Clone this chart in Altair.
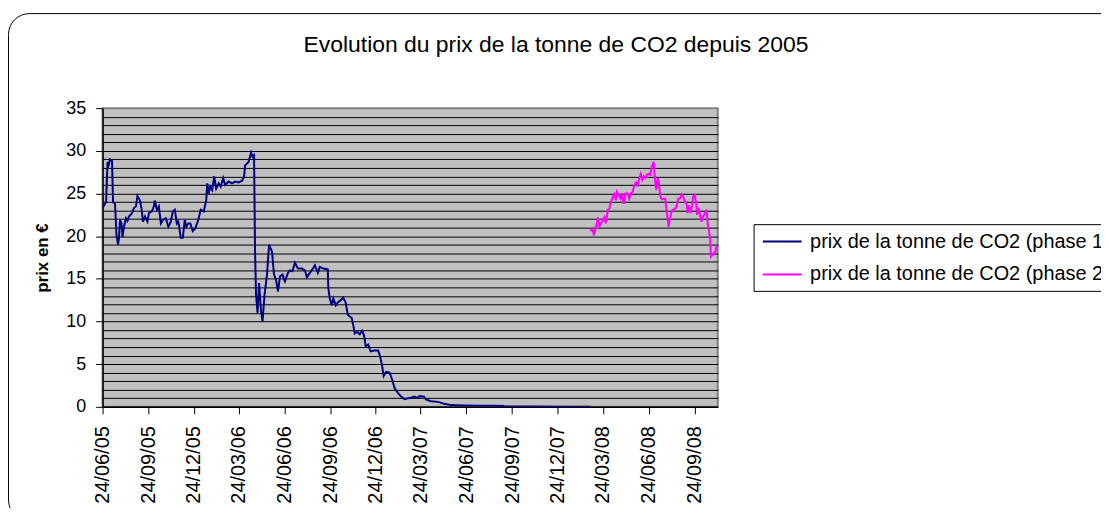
import altair as alt
import pandas as pd
from datetime import datetime, timedelta

titre = "Evolution du prix de la tonne de CO2 depuis 2005"
titre_y = "prix en €"
series = ["prix de la tonne de CO2 (phase 1)", "prix de la tonne de CO2 (phase 2)"]
couleurs = ["#000080", "#FF00FF"]

# day offsets from 24/06/2005 and prices (EUR)
debut = datetime(2005, 6, 24)
jours_phase1 = [
    0, 7, 10, 12, 15, 19, 21, 25, 28, 31,
    33, 35, 38, 40, 43, 47, 50, 53, 59, 63,
    67, 70, 75, 78, 81, 85, 90, 93, 99, 103,
    105, 109, 113, 117, 121, 127, 132, 137, 141, 145,
    149, 152, 157, 161, 165, 168, 172, 176, 181, 186,
    192, 197, 203, 208, 210, 213, 216, 220, 224, 228,
    233, 237, 242, 246, 253, 260, 266, 273, 280, 284,
    286, 293, 298, 301, 304, 306, 308, 311, 314, 318,
    321, 325, 330, 334, 340, 344, 348, 352, 356, 361,
    366, 372, 376, 381, 386, 392, 400, 406, 410, 416,
    423, 426, 432, 436, 443, 452, 453, 456, 460, 463,
    468, 473, 478, 483, 488, 492, 500, 503, 506, 511,
    516, 521, 525, 528, 533, 538, 545, 553, 557, 561,
    564, 569, 576, 581, 586, 593, 599, 606, 613, 619,
    625, 633, 636, 645, 649, 659, 673, 686, 699, 726,
    759, 786, 805, 806, 859, 926, 979,
]
prix_phase1 = [
    23.3, 24.0, 28.7, 28.3, 29.0, 28.8, 24.0, 23.8, 20.1, 19.0,
    19.8, 21.9, 21.5, 19.9, 21.1, 22.1, 21.8, 22.3, 22.7, 23.3,
    23.5, 24.7, 24.2, 23.3, 21.7, 22.3, 21.7, 22.7, 22.9, 23.5,
    24.2, 23.1, 23.5, 21.5, 21.9, 22.1, 21.1, 21.7, 22.9, 23.1,
    21.5, 21.7, 19.8, 19.8, 21.9, 21.1, 21.5, 21.5, 20.6, 20.9,
    21.9, 23.1, 22.9, 24.2, 26.2, 25.0, 25.8, 25.4, 27.0, 25.6,
    26.2, 25.8, 26.8, 26.0, 26.4, 26.2, 26.4, 26.3, 26.5, 27.0,
    28.3, 28.7, 29.8, 29.3, 29.5, 18.2, 13.1, 11.0, 14.5, 11.2,
    10.0, 13.1, 15.5, 19.0, 18.2, 15.5, 14.9, 13.5, 15.3, 15.5,
    14.7, 15.7, 16.0, 15.9, 16.9, 16.2, 16.2, 16.0, 15.2, 15.7,
    16.3, 16.6, 15.7, 16.4, 16.2, 16.1, 13.9, 12.7, 11.9, 12.7,
    11.9, 12.3, 12.5, 12.8, 12.2, 10.8, 10.4, 9.6, 8.6, 8.8,
    8.5, 8.9, 8.3, 7.1, 7.3, 6.5, 6.6, 6.6, 5.9, 4.8,
    3.6, 4.1, 4.0, 3.2, 2.2, 1.6, 1.2, 0.9, 1.0, 1.05,
    1.2, 1.05, 1.25, 1.2, 0.86, 0.66, 0.58, 0.35, 0.2, 0.15,
    0.12, 0.12, 0.1, 0.05, 0.03, 0.02, 0.02,
]
jours_phase2 = [
    978, 984, 986, 989, 992, 994, 997, 1000, 1004, 1007,
    1010, 1014, 1017, 1020, 1024, 1027, 1030, 1032, 1036, 1039,
    1042, 1046, 1049, 1054, 1057, 1060, 1064, 1067, 1071, 1074,
    1077, 1080, 1083, 1086, 1089, 1092, 1096, 1099, 1102, 1106,
    1108, 1111, 1114, 1116, 1119, 1122, 1126, 1129, 1132, 1136,
    1138, 1141, 1144, 1149, 1152, 1155, 1159, 1162, 1165, 1169,
    1172, 1174, 1177, 1180, 1183, 1185, 1188, 1191, 1193, 1196,
    1199, 1202, 1205, 1209, 1212, 1214, 1216, 1219, 1221, 1224,
    1227, 1230, 1232, 1234,
]
prix_phase2 = [
    20.7, 20.7, 20.1, 20.9, 21.5, 22.2, 21.1, 21.5, 21.8, 22.2,
    21.5, 23.1, 23.2, 24.0, 24.6, 24.9, 24.2, 25.2, 24.8, 24.4,
    24.8, 23.8, 25.0, 25.0, 24.4, 25.0, 25.2, 26.0, 26.3, 26.0,
    26.8, 27.3, 26.6, 27.0, 26.8, 27.2, 27.3, 27.2, 28.1, 28.7,
    27.0, 25.4, 26.8, 26.4, 24.8, 24.3, 24.4, 24.4, 22.9, 21.1,
    21.9, 22.7, 23.1, 23.2, 23.5, 24.4, 24.4, 24.9, 24.6, 24.0,
    23.8, 22.7, 23.6, 22.7, 23.6, 24.6, 24.8, 24.0, 22.5, 23.1,
    22.5, 21.7, 22.3, 22.7, 23.1, 21.7, 20.9, 19.8, 17.6, 17.8,
    18.0, 18.2, 18.8, 18.6,
]
# tick dates (24th of every third month) and x-axis end
ticks = [(2005, 6), (2005, 9), (2005, 12), (2006, 3), (2006, 6), (2006, 9), (2006, 12),
         (2007, 3), (2007, 6), (2007, 9), (2007, 12), (2008, 3), (2008, 6), (2008, 9)]
fin_axe = (2008, 11, 9, 12)


def iso(d):
    return (debut + timedelta(days=d)).strftime("%Y-%m-%dT%H:%M:%SZ")


rows = []
for d, p in zip(jours_phase1, prix_phase1):
    rows.append({"date": iso(d), "prix": p, "serie": series[0]})
for d, p in zip(jours_phase2, prix_phase2):
    rows.append({"date": iso(d), "prix": p, "serie": series[1]})
df = pd.DataFrame(rows)

FONT = "Liberation Sans"

x_scale = alt.Scale(
    type="utc",
    domain=[alt.DateTime(year=2005, month=6, date=24, utc=True),
            alt.DateTime(year=fin_axe[0], month=fin_axe[1], date=fin_axe[2], hours=fin_axe[3], utc=True)],
)

lines = alt.Chart(df).mark_line(strokeWidth=2, clip=True).encode(
    x=alt.X(
        "date:T",
        scale=x_scale,
        axis=alt.Axis(
            values=[alt.DateTime(year=y, month=m, date=24, utc=True) for y, m in ticks],
            labelExpr="utcFormat(datum.value, '%d/%m/%y')",
            labelAngle=270,
            labelFont=FONT,
            labelFontSize=20,
            labelColor="black",
            labelPadding=12,
            labelOverlap=False,
            labelBound=False,
            labelFlush=False,
            tickSize=7,
            tickColor="black",
            tickWidth=1,
            domainColor="black",
            domainWidth=1.5,
            grid=False,
            title=None,
        ),
    ),
    y=alt.Y(
        "prix:Q",
        scale=alt.Scale(domain=[0, 35], nice=False, zero=True),
        axis=alt.Axis(
            values=list(range(0, 36)),
            labelExpr="datum.value % 5 === 0 ? datum.label : ''",
            labelFont=FONT,
            labelFontSize=18,
            labelColor="black",
            labelPadding=10,
            labelOverlap=False,
            labelBound=False,
            labelFlush=False,
            tickSize=7,
            tickColor="black",
            tickOpacity={"condition": {"test": "datum.value % 5 === 0", "value": 1}, "value": 0},
            domainColor="black",
            domainWidth=1.5,
            grid=True,
            gridColor="black",
            gridWidth=1,
            gridOpacity={"condition": {"test": "datum.value === 35", "value": 0}, "value": 1},
            title=titre_y,
            titleFont=FONT,
            titleFontSize=17,
            titleFontWeight="bold",
            titleColor="black",
            titleAngle=270,
            titleX=-60,
            titleY=150,
            titleAlign="center",
            titleBaseline="middle",
        ),
    ),
    color=alt.Color(
        "serie:N",
        scale=alt.Scale(domain=series, range=couleurs),
        legend=alt.Legend(
            orient="none",
            legendX=654,
            legendY=116.5,
            title=None,
            symbolType="M-2,0H2",
            symbolSize=380,
            symbolStrokeWidth=2,
            symbolOffset=11.25,
            labelOffset=17,
            labelFont=FONT,
            labelFontSize=20,
            labelColor="black",
            labelLimit=2000,
            strokeColor="black",
            fillColor="white",
            padding=6.5,
            rowPadding=12,
        ),
    ),
)

cadre = alt.Chart(pd.DataFrame({"cadre": [0]})).mark_rect(
    filled=False, stroke="black", strokeWidth=1, cornerRadius=21, clip=False
).encode(
    x=alt.value(-94.5), x2=alt.value(1300), y=alt.value(-95), y2=alt.value(414.5)
)

chart = alt.layer(cadre, lines).properties(
    width=618,
    height=300,
    autosize=alt.AutoSizeParams(type="none"),
    padding={"left": 95, "top": 99.5, "right": 385, "bottom": 100.5},
    background="white",
    title=alt.TitleParams(
        text=titre,
        font=FONT,
        fontSize=23,
        fontWeight="normal",
        color="black",
        anchor="middle",
        frame="group",
        dx=146.5,
        offset=-62,
        baseline="alphabetic",
    ),
).configure_view(
    fill="#C0C0C0", stroke="#808080", strokeWidth=2
)

chart.save("out.html", embed_options={"renderer": "svg", "actions": False})
